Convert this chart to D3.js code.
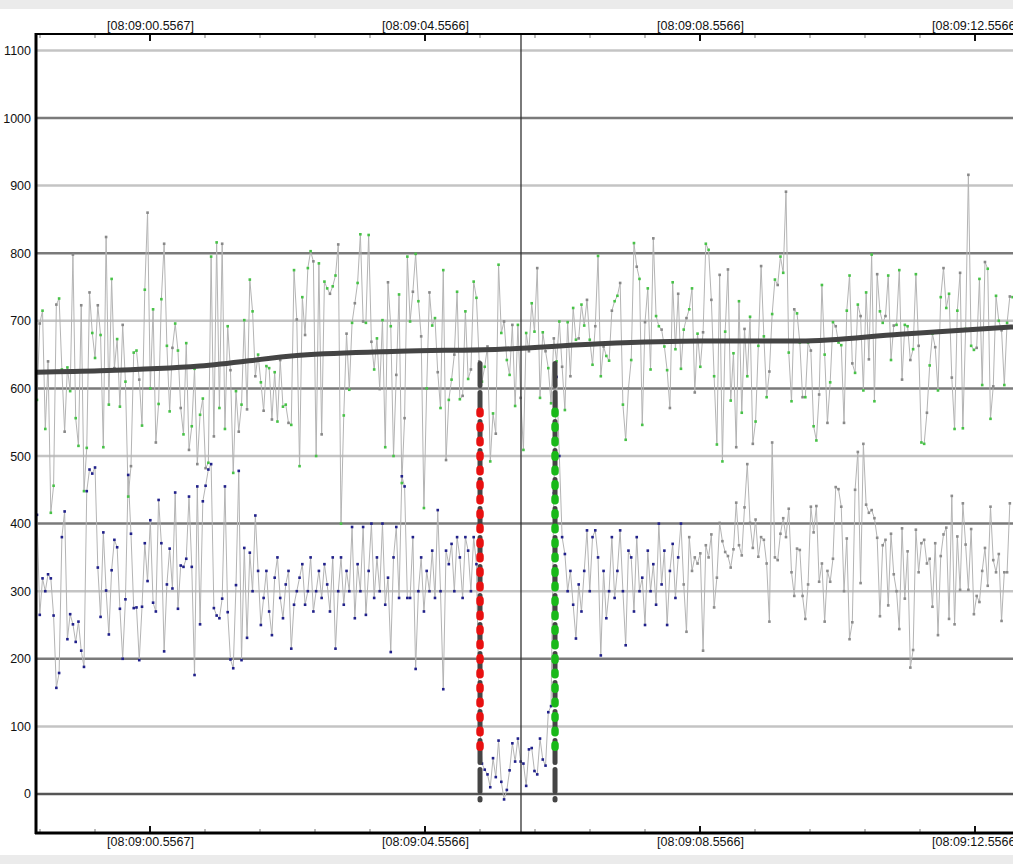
<!DOCTYPE html>
<html>
<head>
<meta charset="utf-8">
<script src="https://cdn.jsdelivr.net/npm/d3@7"></script>
<style>
  html, body { margin: 0; padding: 0; background: #fff; }
  svg { display: block; }
  text { font-family: "Liberation Sans", Arial, sans-serif; font-size: 12.5px; fill: #111; }
</style>
</head>
<body>
<svg id="chart" width="1013" height="864"></svg>
<script>
// ---------- DATA ----------
// times are seconds after 08:09:00
const tickTimes = [0.5567, 4.5566, 8.5566, 12.5566];
const tickLabels = ["[08:09:00.5567]", "[08:09:04.5566]", "[08:09:08.5566]", "[08:09:12.5566]"];
const minorStep = 0.8;
const yTicks = [0, 100, 200, 300, 400, 500, 600, 700, 800, 900, 1000, 1100];

const sampleStart = -1.0869;
const sampleStep = 0.0402;

const upperValues = [
583,696,715,540,640,416,456,724,733,628,536,631,596,798,556,515,723,448,512,742,
682,645,723,679,513,824,576,762,630,673,573,694,610,440,485,653,656,613,545,746,
860,600,717,520,577,732,814,663,566,660,696,656,571,532,667,509,544,629,488,561,
585,482,490,795,529,816,571,814,540,692,627,475,596,536,576,701,569,761,714,618,
650,609,567,633,630,554,624,551,
642,573,576,549,546,775,702,485,735,679,778,803,788,500,785,532,758,748,740,751,
767,813,400,560,681,598,697,726,756,828,699,697,827,669,628,674,599,701,513,757,
692,500,620,739,460,556,795,699,743,799,729,677,423,600,742,693,704,624,571,775,
494,583,613,650,743,584,589,714,614,628,758,734,640,610,632,662,492,563,533,783,
682,699,642,620,694,574,694,586,509,682,
655,726,684,778,586,683,655,630,578,674,640,699,632,568,698,618,719,672,674,724,
693,731,672,635,692,796,618,662,648,641,715,729,737,756,576,524,600,642,815,780,
762,546,698,748,628,822,707,692,687,662,627,571,757,658,740,629,687,704,717,748,
594,681,632,683,814,805,731,618,517,768,492,684,776,582,652,513,729,564,688,618,
706,518,551,663,781,677,587,
625,710,761,753,795,771,891,653,581,717,711,668,587,587,668,656,544,523,591,753,
650,549,609,698,692,668,664,549,715,767,637,623,724,707,597,742,643,798,581,769,
714,697,707,767,642,693,694,775,613,694,692,642,658,769,663,520,518,564,634,681,
661,597,735,778,719,740,616,540,715,771,541,688,916,663,657,660,762,605,787,777,
555,603,737,700,686,605,697,736,735
];

const lowerValues = [
413,265,319,300,325,319,264,157,179,380,418,229,266,251,225,255,212,188,448,480,
474,483,335,262,387,301,236,331,376,365,274,200,288,472,385,275,276,198,277,371,
315,405,283,270,435,371,211,310,363,304,446,274,338,336,348,440,336,176,455,251,
433,456,480,488,275,264,260,289,455,269,199,186,309,478,198,364,231,357,
300,412,330,250,290,330,270,235,320,350,290,260,310,330,215,280,300,320,340,280,
300,350,270,300,330,290,340,310,270,350,215,300,350,280,330,300,395,260,340,300,
395,265,330,400,290,350,300,400,280,320,210,350,395,290,470,455,290,290,380,185,
300,350,270,330,300,360,290,420,300,155,360,340,370,300,380,350,290,380,360,300,
380,340,120,
45,36,29,10,53,25,79,18,-8,6,35,75,48,82,48,45,12,66,68,34,29,82,51,42,121,
130,445,617,500,380,355,300,330,280,230,310,270,330,390,300,380,390,350,205,330,
260,300,380,290,330,390,300,220,360,350,270,380,300,320,250,360,300,340,280,400,
310,360,250,330,370,290,350,400,310,240,380,330,350,
341,356,212,368,350,384,276,320,401,374,358,352,335,362,431,368,353,424,488,401,
364,406,351,380,376,341,255,520,350,346,385,408,380,422,328,293,363,361,293,259,
310,425,387,426,314,341,255,330,314,348,454,451,425,300,378,229,254,450,506,312,
518,428,416,420,408,379,263,368,376,279,385,325,300,244,393,289,359,187,213,391,
328,371,376,341,348,277,371,235,352,384,394,259,441,251,381,302,430,369,302,392,
266,293,284,330,364,308,425,346,328,355,256,328,328,430
];
const lowerBlueUntil = 8.3; // seconds: lower markers blue before this time, grey after

const trendTimes  = [-1.10, -0.17, 1.28, 2.74, 4.19, 5.65, 7.10, 8.56, 10.01, 11.47, 13.11];
const trendValues = [624, 626, 633, 649, 655, 658, 666, 670, 670, 680, 691];

const cursorTime = 5.953;
const markerTimes = [5.357, 6.448];
const markerColors = ["#e81010", "#19b919"];
const markerGreyRange = [637, -9];
const markerColorRange = [572, 55];

// ---------- LAYOUT ----------
const W = 1013, H = 864;
const plot = { left: 36, top: 34, right: 1013, bottom: 833 };

const svg = d3.select("#chart");

svg.append("rect").attr("x", 0).attr("y", 0).attr("width", W).attr("height", H).attr("fill", "#fff");
svg.append("rect").attr("x", 0).attr("y", 0).attr("width", W).attr("height", 9).attr("fill", "#ebebeb");
svg.append("rect").attr("x", 0).attr("y", 855).attr("width", W).attr("height", 9).attr("fill", "#ebebeb");

const pxPerSec = 68.75;
const x = d3.scaleLinear()
  .domain([tickTimes[0] - (150 - plot.left) / pxPerSec, tickTimes[0] + (plot.right - 150) / pxPerSec])
  .range([plot.left, plot.right]);
const y = d3.scaleLinear().domain([-57.7, 1124.3]).range([plot.bottom, plot.top]);

svg.append("clipPath").attr("id", "clip").append("rect")
  .attr("x", plot.left).attr("y", plot.top).attr("width", plot.right - plot.left).attr("height", plot.bottom - plot.top);

const g = svg.append("g").attr("clip-path", "url(#clip)");

// gridlines
g.selectAll("line.grid").data(yTicks).enter().append("line")
  .attr("x1", plot.left).attr("x2", plot.right)
  .attr("y1", d => y(d)).attr("y2", d => y(d))
  .attr("stroke", d => d === 0 ? "#555" : (d / 100) % 2 === 0 ? "#7a7a7a" : "#c4c4c4")
  .attr("stroke-width", 2.5);

const minorTimes = d3.range(-3, 17).map(k => tickTimes[0] + k * minorStep).filter(t => x(t) > plot.left + 2 && x(t) < plot.right);

// series
const upperData = upperValues.map((v, i) => ({ t: sampleStart + i * sampleStep, v }));
const lowerData = lowerValues.map((v, i) => ({ t: sampleStart + i * sampleStep, v }));
const line = d3.line().x(d => x(d.t)).y(d => y(d.v));

g.append("path").datum(upperData).attr("d", line).attr("fill", "none").attr("stroke", "#b4b4b4").attr("stroke-width", 1);
g.append("path").datum(lowerData).attr("d", line).attr("fill", "none").attr("stroke", "#b4b4b4").attr("stroke-width", 1);

g.selectAll("rect.up").data(upperData).enter().append("rect")
  .attr("x", d => x(d.t) - 1.3).attr("y", d => y(d.v) - 1.3)
  .attr("width", 2.6).attr("height", 2.6)
  .attr("fill", (d, i) => i % 3 === 1 ? "#888" : "#47c247");
g.selectAll("rect.lo").data(lowerData).enter().append("rect")
  .attr("x", d => x(d.t) - 1.3).attr("y", d => y(d.v) - 1.3)
  .attr("width", 2.6).attr("height", 2.6)
  .attr("fill", d => d.t < lowerBlueUntil ? "#20208a" : "#8c8c8c");

// trend line
const trend = trendTimes.map((t, i) => ({ t, v: trendValues[i] }));
g.append("path").datum(trend)
  .attr("d", d3.line().x(d => x(d.t)).y(d => y(d.v)).curve(d3.curveMonotoneX))
  .attr("fill", "none").attr("stroke", "#444").attr("stroke-width", 5);

// markers
markerTimes.forEach((t, i) => {
  g.append("line")
    .attr("x1", x(t)).attr("x2", x(t))
    .attr("y1", y(markerGreyRange[0])).attr("y2", y(markerGreyRange[1]))
    .attr("stroke", "#454545").attr("stroke-width", 5)
    .attr("stroke-dasharray", "22,7").attr("stroke-linecap", "round");
  g.append("line")
    .attr("x1", x(t)).attr("x2", x(t))
    .attr("y1", y(markerColorRange[0]) + 4).attr("y2", y(markerColorRange[1]))
    .attr("stroke", markerColors[i]).attr("stroke-width", 7.5)
    .attr("stroke-dasharray", "2.5,12").attr("stroke-linecap", "round");
});

// cursor line
g.append("line")
  .attr("x1", x(cursorTime)).attr("x2", x(cursorTime))
  .attr("y1", plot.top).attr("y2", plot.bottom)
  .attr("stroke", "#333").attr("stroke-width", 1.3);

// ticks
const ticks = svg.append("g");
minorTimes.forEach(t => {
  const isMajor = tickTimes.some(m => Math.abs(m - t) < 0.01);
  [[plot.top + 1, plot.top + (isMajor ? 7 : 4)], [plot.bottom - 1, plot.bottom - (isMajor ? 7 : 4)]].forEach(([a, b]) => {
    ticks.append("line").attr("x1", x(t)).attr("x2", x(t)).attr("y1", a).attr("y2", b)
      .attr("stroke", isMajor ? "#111" : "#999").attr("stroke-width", isMajor ? 2 : 1.3);
  });
});

// axes frame
svg.append("line").attr("x1", plot.left - 1).attr("x2", plot.right).attr("y1", plot.top).attr("y2", plot.top)
  .attr("stroke", "#000").attr("stroke-width", 2);
svg.append("line").attr("x1", plot.left - 1).attr("x2", plot.right).attr("y1", plot.bottom).attr("y2", plot.bottom)
  .attr("stroke", "#000").attr("stroke-width", 3);
svg.append("line").attr("x1", plot.left).attr("x2", plot.left).attr("y1", plot.top - 1).attr("y2", plot.bottom + 1)
  .attr("stroke", "#000").attr("stroke-width", 3);

// axis labels
const fmt = (d, i) => tickLabels[i];
const axT = svg.append("g").attr("transform", `translate(0,${plot.top - 4})`)
  .call(d3.axisTop(x).tickValues(tickTimes).tickFormat(fmt).tickSize(0).tickPadding(0));
const axB = svg.append("g").attr("transform", `translate(0,${plot.bottom + 4})`)
  .call(d3.axisBottom(x).tickValues(tickTimes).tickFormat(fmt).tickSize(0).tickPadding(0));
const axL = svg.append("g").attr("transform", `translate(${plot.left - 5},0)`)
  .call(d3.axisLeft(y).tickValues(yTicks).tickFormat(d3.format("d")).tickSize(0).tickPadding(0));
[axT, axB, axL].forEach(a => {
  a.select(".domain").remove();
  a.selectAll("text").attr("font-family", "Liberation Sans, Arial, sans-serif").attr("font-size", 12.5).attr("fill", "#111");
});
</script>
</body>
</html>
